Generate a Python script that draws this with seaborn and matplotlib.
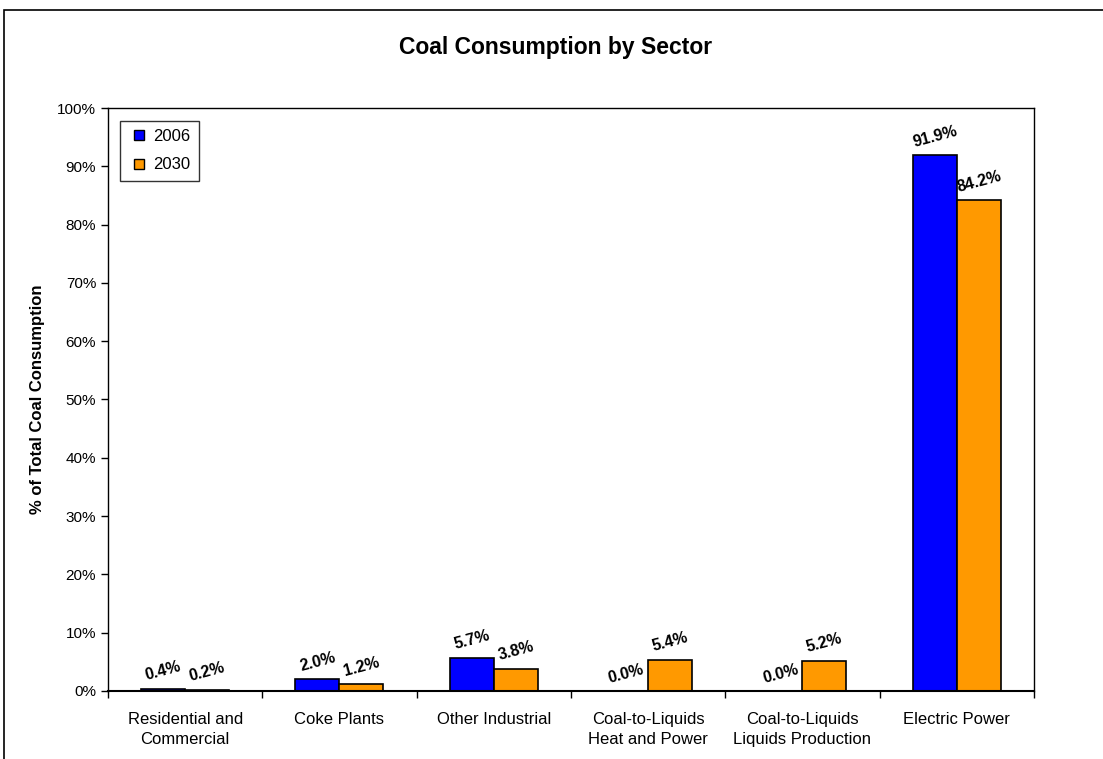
import matplotlib
matplotlib.use("Agg")
import matplotlib.pyplot as plt
from matplotlib.patches import Rectangle
from matplotlib.lines import Line2D
from matplotlib.ticker import FixedLocator, PercentFormatter
import seaborn as sns
import pandas as pd

sectors = ["Residential and\nCommercial", "Coke Plants", "Other Industrial",
           "Coal-to-Liquids\nHeat and Power", "Coal-to-Liquids\nLiquids Production",
           "Electric Power"]
share_2006 = [0.4, 2.0, 5.7, 0.0, 0.0, 91.9]
share_2030 = [0.2, 1.2, 3.8, 5.4, 5.2, 84.2]
years = ["2006", "2030"]
colors = ["#0000FF", "#FF9900"]

df = pd.DataFrame({
    "sector": sectors * 2,
    "year": [years[0]] * len(sectors) + [years[1]] * len(sectors),
    "share": share_2006 + share_2030,
})

sns.set_style("white")
plt.rcParams["font.family"] = ["Liberation Sans", "DejaVu Sans"]
plt.rcParams["text.color"] = "black"
plt.rcParams["axes.labelcolor"] = "black"
plt.rcParams["xtick.color"] = "black"
plt.rcParams["ytick.color"] = "black"

fig = plt.figure(figsize=(11.03, 7.59), dpi=100)
ax = fig.add_axes([0.0979, 0.0896, 0.8395, 0.7681])

sns.barplot(data=df, x="sector", y="share", hue="year", order=sectors,
            hue_order=years, palette=colors, width=0.57, saturation=1,
            edgecolor="black", linewidth=1.2, ax=ax, legend=False)

# value labels above each bar
for container in ax.containers:
    for bar, val in zip(container, container.datavalues):
        ax.annotate(f"{val:.1f}%",
                    (bar.get_x() + bar.get_width() / 2, bar.get_height()),
                    xytext=(0, 4), textcoords="offset points",
                    ha="center", va="bottom", rotation=15,
                    fontsize=11.5, fontweight="bold")

ax.set_xlim(-0.5, len(sectors) - 0.5)
ax.set_ylim(0, 100)
ax.yaxis.set_major_locator(FixedLocator(range(0, 101, 10)))
ax.yaxis.set_major_formatter(PercentFormatter(decimals=0))

# category boundaries carry the ticks, labels sit at the centres
ax.xaxis.set_minor_locator(FixedLocator([i - 0.5 for i in range(len(sectors) + 1)]))
ax.tick_params(axis="x", which="major", length=0, pad=15, labelsize=12)
ax.tick_params(axis="x", which="minor", length=5, width=1, direction="out", bottom=True)
ax.tick_params(axis="y", length=5, width=1, direction="out", left=True, labelsize=11)
for lbl in ax.get_xticklabels():
    lbl.set_linespacing(1.42)

for spine in ax.spines.values():
    spine.set_visible(True)
    spine.set_color("black")
    spine.set_linewidth(1)
ax.spines["bottom"].set_linewidth(1.5)

ax.set_xlabel("")
ax.set_ylabel("% of Total Coal Consumption", fontsize=12, fontweight="bold", labelpad=9)

fig.text(0.504, 0.938, "Coal Consumption by Sector", ha="center", va="center",
         fontsize=16.5, fontweight="bold")

handles = [Line2D([], [], linestyle="none", marker="s", markersize=7,
                  markerfacecolor=c, markeredgecolor="black", markeredgewidth=1)
           for c in colors]
leg = ax.legend(handles, years, loc="upper left", bbox_to_anchor=(0.013, 0.978),
                borderaxespad=0, frameon=True, fancybox=False, edgecolor="black",
                fontsize=12, handlelength=1.3, handletextpad=0.2,
                labelspacing=0.8, borderpad=0.5)
leg.get_frame().set_linewidth(1)

# outer chart border
fig.patches.append(Rectangle((4 / 1103, -0.2), 1.2, 1.2 - 10 / 759,
                             transform=fig.transFigure, fill=False,
                             edgecolor="black", linewidth=1.2))

fig.savefig("out.png", dpi=100, facecolor="white")
